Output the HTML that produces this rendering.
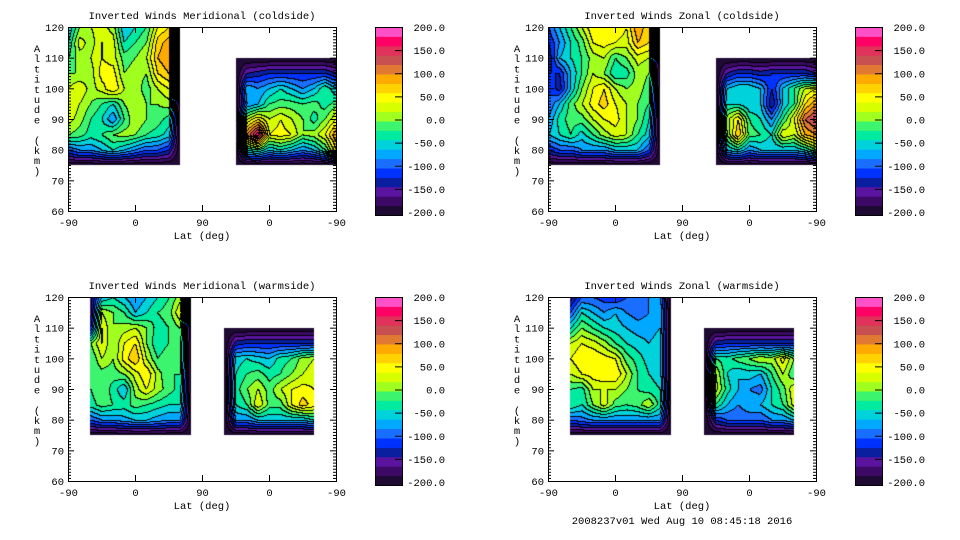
<!DOCTYPE html>
<html><head><meta charset="utf-8">
<style>
html,body{margin:0;padding:0;background:#fff;}
#root{position:relative;width:960px;height:540px;overflow:hidden;background:#fff;}
canvas{position:absolute;}
svg{position:absolute;left:0;top:0;}
text{font-family:"Liberation Mono",monospace;font-size:10.5px;fill:#000;}
</style></head>
<body>
<div id="root">
<canvas id="c0" width="268" height="184" style="left:68px;top:27px"></canvas>
<canvas id="c1" width="268" height="184" style="left:548px;top:27px"></canvas>
<canvas id="c2" width="268" height="184" style="left:68px;top:297px"></canvas>
<canvas id="c3" width="268" height="184" style="left:548px;top:297px"></canvas>
<svg id="ov" width="960" height="540"></svg>
</div>
<script>
// axis position nodes (degrees along the -90..90..-90 axis)
const latNodes = [0,15,30,45,60,75,90,105,120,135,150,165,180,195,210,225,240,255,270,285,300,315,330,345,360];
const altNodes = [120,115,110,105,100,95,90,85,80,75,70,65,60];
const xTickLabels = ["-90","0","90","0","-90"];
const yTickLabels = ["60","70","80","90","100","110","120"];
const cbarLabels = ["200.0","150.0","100.0","50.0","0.0","-50.0","-100.0","-150.0","-200.0"];
const bandColors = ["#1e0a32","#3c0a64","#5a14a0","#0a1ea0","#0032ff","#1a6eff","#00a8ff","#00d2dc","#00eaa0","#3cf46e","#a0ff1e","#d8ff00","#ffff00","#ffd200","#ffaa00","#e07a32","#c85050","#e0325a","#ff0064","#ff50c8"];
const N = null;
const titles = ["Inverted Winds Meridional (coldside)","Inverted Winds Zonal (coldside)","Inverted Winds Meridional (warmside)","Inverted Winds Zonal (warmside)"];

const merCold = [
[-60,0,20,30,10,-60,-40,-20,40,60,-200,N,N,N,N,N,N,N,N,N,N,N,N,N,N],
[-40,30,10,40,30,-40,-20,0,70,90,-200,N,N,N,N,N,N,N,N,N,N,N,N,N,N],
[-20,10,20,40,30,-10,0,20,80,100,-200,N,N,N,N,-200,-200,-200,-200,-200,-200,-200,-200,-200,-200],
[0,0,10,50,50,0,10,0,60,80,-200,N,N,N,N,-200,-140,-130,-120,-120,-120,-120,-120,-120,-140],
[20,40,10,30,60,20,10,-10,20,40,-200,N,N,N,N,-200,-60,-80,-60,-40,-60,-80,-60,-20,-60],
[40,20,0,-20,-40,0,20,0,0,10,-200,N,N,N,N,-200,-80,-60,-20,-10,-10,-20,-10,-30,-10],
[30,10,-20,-40,-80,-20,20,0,-10,-30,-200,N,N,N,N,-200,20,60,20,40,20,0,-30,0,40],
[0,-10,-30,-20,0,10,0,-20,-30,-50,-200,N,N,N,N,-200,100,180,40,50,40,0,10,40,100],
[-100,-80,-80,-60,-40,-60,-80,-100,-100,-120,-200,N,N,N,N,-200,-40,-20,-60,-40,-60,-80,-60,-20,60],
[-200,-200,-200,-200,-200,-200,-200,-200,-200,-200,-200,N,N,N,N,-200,-200,-200,-200,-200,-200,-200,-200,-200,-200],
[N,N,N,N,N,N,N,N,N,N,N,N,N,N,N,N,N,N,N,N,N,N,N,N,N],
[N,N,N,N,N,N,N,N,N,N,N,N,N,N,N,N,N,N,N,N,N,N,N,N,N],
[N,N,N,N,N,N,N,N,N,N,N,N,N,N,N,N,N,N,N,N,N,N,N,N,N]];

const zonCold = [
[-100,-60,-20,20,60,40,60,40,100,60,-200,N,N,N,N,N,N,N,N,N,N,N,N,N,N],
[-120,-80,-40,-10,40,50,40,30,80,60,-200,N,N,N,N,N,N,N,N,N,N,N,N,N,N],
[-140,-60,-40,-20,10,20,-20,0,30,20,-200,N,N,N,N,-200,-200,-200,-200,-200,-200,-200,-200,-200,-200],
[-120,-120,-60,-20,20,0,-40,-30,10,0,-200,N,N,N,N,-200,-140,-120,-120,-130,-120,-120,-120,-120,-140],
[-100,-130,-60,0,40,60,20,0,10,-10,-200,N,N,N,N,-200,-60,-40,-40,-60,-120,-60,-20,20,40],
[-100,-60,-10,20,50,70,40,20,0,-20,-200,N,N,N,N,-200,-40,-40,-60,-60,-140,-60,-20,60,100],
[-80,-30,-10,-10,20,40,50,20,0,-40,-200,N,N,N,N,-200,10,60,-20,-40,-80,-20,40,120,150],
[-60,-40,-20,-50,-20,10,30,20,-20,-50,-200,N,N,N,N,-200,0,80,-10,-20,-40,40,20,80,100],
[-120,-100,-100,-80,-80,-80,-60,-60,-60,-100,-200,N,N,N,N,-200,-60,-40,-80,-60,-60,-60,-60,-40,0],
[-200,-200,-200,-200,-200,-200,-200,-200,-200,-200,-200,N,N,N,N,-200,-200,-200,-200,-200,-200,-200,-200,-200,-200],
[N,N,N,N,N,N,N,N,N,N,N,N,N,N,N,N,N,N,N,N,N,N,N,N,N],
[N,N,N,N,N,N,N,N,N,N,N,N,N,N,N,N,N,N,N,N,N,N,N,N,N],
[N,N,N,N,N,N,N,N,N,N,N,N,N,N,N,N,N,N,N,N,N,N,N,N,N]];

const merWarm = [
[N,N,-150,-60,-40,-60,-80,-60,-40,-20,10,-200,N,N,N,N,N,N,N,N,N,N,N,N,N],
[N,N,-150,20,0,-20,-60,-40,-20,-10,40,-200,N,N,N,N,N,N,N,N,N,N,N,N,N],
[N,N,-120,40,0,10,20,0,-30,-20,0,-200,N,N,-200,-200,-200,-200,-200,-200,-200,-200,-200,N,N],
[N,N,0,40,0,40,60,0,-40,-20,-10,-200,N,N,-200,-130,-120,-120,-120,-120,-120,-120,-120,N,N],
[N,N,-20,20,0,50,80,20,-20,0,-10,-200,N,N,-200,-50,-40,-50,-60,-30,-20,10,20,N,N],
[N,N,-20,-10,-10,0,30,60,10,-20,-20,-200,N,N,-200,-40,-20,-10,-30,-20,0,20,30,N,N],
[N,N,-20,0,-30,-60,10,40,10,-10,-30,-200,N,N,-200,-30,0,20,-10,20,40,50,40,N,N],
[N,N,-30,-10,-20,-30,-10,-20,-30,-40,-40,-200,N,N,-200,-40,-20,40,-10,-10,40,70,50,N,N],
[N,N,-100,-80,-80,-70,-60,-60,-70,-80,-80,-200,N,N,-200,-80,-80,-60,-60,-60,-60,-60,-40,N,N],
[N,N,-200,-200,-200,-200,-200,-200,-200,-200,-200,-200,N,N,-200,-200,-200,-200,-200,-200,-200,-200,-200,N,N],
[N,N,N,N,N,N,N,N,N,N,N,N,N,N,N,N,N,N,N,N,N,N,N,N,N],
[N,N,N,N,N,N,N,N,N,N,N,N,N,N,N,N,N,N,N,N,N,N,N,N,N],
[N,N,N,N,N,N,N,N,N,N,N,N,N,N,N,N,N,N,N,N,N,N,N,N,N]];

const zonWarm = [
[N,N,-150,-100,-100,-110,-120,-100,-100,-80,-80,-200,N,N,N,N,N,N,N,N,N,N,N,N,N],
[N,N,-100,-40,-60,-80,-60,-80,-90,-80,-60,-200,N,N,N,N,N,N,N,N,N,N,N,N,N],
[N,N,-40,0,-20,-40,-50,-60,-70,-70,-60,-200,N,N,-200,-200,-200,-200,-200,-200,-200,-200,-200,N,N],
[N,N,20,40,30,10,-20,-40,-50,-60,-50,-200,N,N,-200,-130,-120,-120,-120,-120,-120,-120,-120,N,N],
[N,N,40,60,60,50,40,-10,-30,-50,-50,-200,N,N,-200,-20,-30,-10,0,20,10,50,0,N,N],
[N,N,20,40,50,60,60,20,-20,-40,-50,-200,N,N,-200,20,-40,-60,-50,-60,-20,20,-20,N,N],
[N,N,-20,-30,20,20,20,0,-20,-30,-40,-200,N,N,-200,30,-30,-60,-80,-90,-40,-10,40,N,N],
[N,N,-20,-40,0,30,-10,-20,-10,20,-30,-200,N,N,-200,-20,-60,-80,-60,-60,-40,-20,30,N,N],
[N,N,-100,-90,-80,-80,-80,-80,-80,-80,-80,-200,N,N,-200,-120,-100,-100,-100,-100,-80,-80,-60,N,N],
[N,N,-200,-200,-200,-200,-200,-200,-200,-200,-200,-200,N,N,-200,-200,-200,-200,-200,-200,-200,-200,-200,N,N],
[N,N,N,N,N,N,N,N,N,N,N,N,N,N,N,N,N,N,N,N,N,N,N,N,N],
[N,N,N,N,N,N,N,N,N,N,N,N,N,N,N,N,N,N,N,N,N,N,N,N,N],
[N,N,N,N,N,N,N,N,N,N,N,N,N,N,N,N,N,N,N,N,N,N,N,N,N]];

const grids = [merCold, zonCold, merWarm, zonWarm];
const origins = [[68,27],[548,27],[68,297],[548,297]];
const PW = 268, PH = 184;
const pMax = latNodes[latNodes.length-1];
const altTop = altNodes[0], altBot = altNodes[altNodes.length-1];

function xScale(p){ return p*PW/pMax; }
function yScale(a){ return (altTop-a)*PH/(altTop-altBot); }

function sample(g,p,a){
  let ci = 0; while(ci < latNodes.length-2 && p > latNodes[ci+1]) ci++;
  let ri = 0; while(ri < altNodes.length-2 && a < altNodes[ri+1]) ri++;
  const fx = (p-latNodes[ci])/(latNodes[ci+1]-latNodes[ci]);
  const fy = (altNodes[ri]-a)/(altNodes[ri]-altNodes[ri+1]);
  const A=g[ri][ci],B=g[ri][ci+1],C=g[ri+1][ci],D=g[ri+1][ci+1];
  if(A===null||B===null||C===null||D===null) return null;
  return A*(1-fx)*(1-fy)+B*fx*(1-fy)+C*(1-fx)*fy+D*fx*fy;
}
function band(v){ return Math.max(0,Math.min(19,Math.floor((v+200)/20))); }
function hex(h){ return [parseInt(h.substr(1,2),16),parseInt(h.substr(3,2),16),parseInt(h.substr(5,2),16)]; }
const rgb = bandColors.map(hex);

grids.forEach((g,k)=>{
  const cv = document.getElementById('c'+k);
  const ctx = cv.getContext('2d');
  const img = ctx.createImageData(PW,PH);
  const b = new Int16Array(PW*PH);
  for(let y=0;y<PH;y++){ for(let x=0;x<PW;x++){
    const p=(x+0.5)*pMax/PW, a=altTop-(y+0.5)*(altTop-altBot)/PH;
    const v=sample(g,p,a); b[y*PW+x]= v===null?-1:band(v);
  }}
  for(let y=0;y<PH;y++){ for(let x=0;x<PW;x++){
    const i=y*PW+x, bi=b[i]; let c=[255,255,255];
    if(bi>=0){
      c=rgb[bi];
      if((x>0&&b[i-1]>=0&&b[i-1]!==bi)||(y>0&&b[i-PW]>=0&&b[i-PW]!==bi)) c=[0,0,0];
    }
    img.data[i*4]=c[0];img.data[i*4+1]=c[1];img.data[i*4+2]=c[2];img.data[i*4+3]=255;
  }}
  ctx.putImageData(img,0,0);
});

const NS="http://www.w3.org/2000/svg";
const ov=document.getElementById('ov');
function mk(tag,attrs,parent){const e=document.createElementNS(NS,tag);for(const k in attrs)e.setAttribute(k,attrs[k]);(parent||ov).appendChild(e);return e;}

origins.forEach((o,k)=>{
  const [ox,oy]=o;
  const grp=mk('g',{});
  
  
  const fr=mk('rect',{x:ox+0.5,y:oy+0.5,width:PW,height:PH,fill:'none',stroke:'#000','stroke-width':1},grp);
  
  
  for(let a=altBot;a<=altTop;a++){
    const y=oy+yScale(a)+0.5, L=(a%10===0)?6:3;
    mk('line',{x1:ox,x2:ox+L,y1:y,y2:y,stroke:'#000'},grp);
    mk('line',{x1:ox+PW-L,x2:ox+PW,y1:y,y2:y,stroke:'#000'},grp);
  }
  yTickLabels.forEach((t,i)=>{
    const a=altBot+i*10;
    const tx=mk('text',{x:ox-4,y:oy+yScale(a)+4,'text-anchor':'end'},grp);
    tx.textContent=t;
    
    
  });
  xTickLabels.forEach((t,i)=>{
    const x=ox+xScale(i*90)+0.5;
    mk('line',{x1:x,x2:x,y1:oy,y2:oy+6,stroke:'#000'},grp);
    mk('line',{x1:x,x2:x,y1:oy+PH-6,y2:oy+PH,stroke:'#000'},grp);
    const tx=mk('text',{x:x,y:oy+PH+15,'text-anchor':'middle'},grp);
    tx.textContent=t;
    
    
  });
  const xt=mk('text',{x:ox+PW/2,y:oy+PH+28,'text-anchor':'middle'},grp);
  xt.textContent='Lat (deg)';
  
  
  const ti=mk('text',{x:ox+PW/2,y:oy-8,'text-anchor':'middle'},grp);
  ti.textContent=titles[k];
  
  
  const yt=mk('text',{x:ox-31,y:oy+25,'text-anchor':'middle'},grp);
  
  
  'Altitude (km)'.split('').forEach((ch,j)=>{const s=mk('tspan',{x:ox-31,y:oy+25+j*10.2},yt);s.textContent=ch;});
  const cx=ox+307, cy=oy, cw=27, ch=188;
  const cb=mk('g',{},ov);
  
  
  bandColors.forEach((c,i)=>{
    const h=ch/bandColors.length;
    const r=mk('rect',{x:cx,y:cy+ch-(i+1)*h,width:cw,height:h+0.5,fill:c},cb);
    
    
  });
  mk('rect',{x:cx+0.5,y:cy+0.5,width:cw,height:ch,fill:'none',stroke:'#000'},cb);
  cbarLabels.forEach((t,i)=>{
    const y=cy+i*(185/(cbarLabels.length-1));
    if(i>0&&i<cbarLabels.length-1) mk('line',{x1:cx+cw-7,x2:cx+cw,y1:y+0.5,y2:y+0.5,stroke:'#000'},cb);
    const tx=mk('text',{x:cx+70,y:y+4,'text-anchor':'end'},cb);
    tx.textContent=t;
    
    
  });
});
const ft=mk('text',{x:682,y:524,'text-anchor':'middle'});
ft.textContent='2008237v01 Wed Aug 10 08:45:18 2016';


</script>
</body></html>
